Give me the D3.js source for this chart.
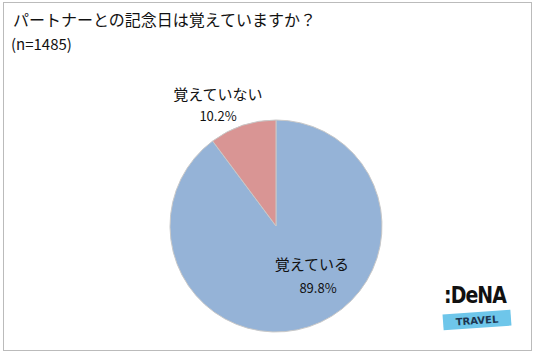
<!DOCTYPE html>
<html><head><meta charset="utf-8">
<script src="https://cdn.jsdelivr.net/npm/d3@7"></script>
<style>body{margin:0;background:#fff;} svg{display:block;font-family:"Noto Sans CJK JP","Noto Sans",sans-serif;}</style>
</head><body>
<svg id="c" width="536" height="357"></svg>
<script>
const title = "パートナーとの記念日は覚えていますか？";
const subtitle = "(n=1485)";
const categories = ["覚えている", "覚えていない"];
const values = [89.8, 10.2];
const valueLabels = ["89.8%", "10.2%"];
const colors = ["#95b3d7", "#d99594"];

const svg = d3.select("#c");
svg.append("rect").attr("x",3.5).attr("y",2.5).attr("width",528).attr("height",348)
  .attr("fill","#fff").attr("stroke","#bbb").attr("stroke-width",1);

svg.append("text").attr("x",13).attr("y",26).attr("font-size",16).attr("fill","#111").text(title);
svg.append("text").attr("x",11).attr("y",50).attr("font-size",15).attr("fill","#111").text(subtitle);

const cx = 276, cy = 226, r = 106;
const arcs = d3.pie().sort(null).value(d=>d)(values);
const arc = d3.arc().innerRadius(0).outerRadius(r);
const g = svg.append("g").attr("transform",`translate(${cx},${cy})`);
g.selectAll("path").data(arcs).join("path")
  .attr("d", arc).attr("fill",(d,i)=>colors[i]).attr("stroke","#c8c8c8").attr("stroke-width",1);

const labelPos = [[312,270,318,293],[218,100,218,121]];
categories.forEach((c,i)=>{
  svg.append("text").attr("x",labelPos[i][0]).attr("y",labelPos[i][1]).attr("text-anchor","middle")
    .attr("font-size",15).attr("fill","#111").text(c);
  svg.append("text").attr("x",labelPos[i][2]).attr("y",labelPos[i][3]).attr("text-anchor","middle")
    .attr("font-size",13).attr("fill","#111").text(valueLabels[i]);
});

// logo
const lg = svg.append("g");
lg.append("text").attr("x",444).attr("y",303).attr("font-size",23).attr("font-weight","bold")
  .attr("font-family","'DejaVu Sans Condensed','DejaVu Sans',sans-serif").attr("fill","#111")
  .attr("letter-spacing",-1).attr("textLength",62).attr("lengthAdjust","spacingAndGlyphs").text(":DeNA");
lg.append("g").attr("transform","translate(477,320) rotate(-4)")
  .call(s=>{
    s.append("rect").attr("x",-34).attr("y",-8).attr("width",68).attr("height",16).attr("fill","#6ec6ea");
    s.append("text").attr("x",0).attr("y",4).attr("text-anchor","middle").attr("font-size",10)
      .attr("font-weight","bold").attr("font-family","'DejaVu Sans',sans-serif").attr("fill","#1d3550").text("TRAVEL");
  });
</script>
</body></html>
